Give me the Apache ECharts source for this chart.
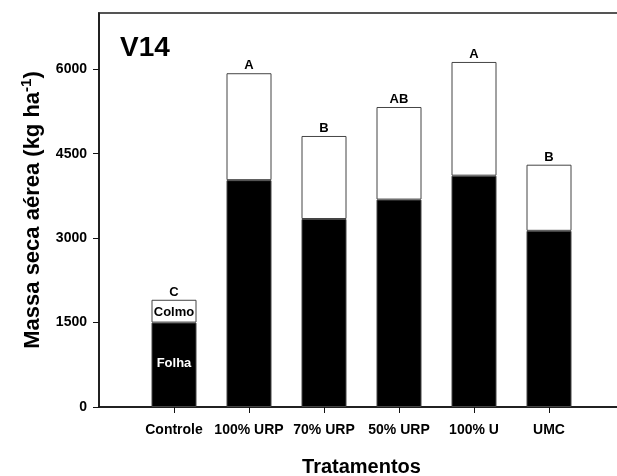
<!DOCTYPE html>
<html>
<head>
<meta charset="utf-8">
<script src="https://cdn.jsdelivr.net/npm/echarts@6/dist/echarts.min.js"></script>
<style>
html, body { margin: 0; padding: 0; background: #fff; }
#main { width: 617px; height: 476px; }
</style>
</head>
<body>
<div id="main"></div>
<script>
// massa seca aérea (kg/ha) em V14
var tratamentos = ['Controle', '100% URP', '70% URP', '50% URP', '100% U', 'UMC'];
var folha = [1500, 4030, 3340, 3685, 4110, 3130];
var colmo = [405, 1900, 1475, 1645, 2020, 1175];
var letras = ['C', 'A', 'B', 'AB', 'A', 'B'];
var yTicks = [0, 1500, 3000, 4500, 6000];

var fonte = '"Liberation Sans", Arial, sans-serif';

// uma posição vazia em cada ponta do eixo, como no original
function pad(arr, vazio) {
	return [vazio].concat(arr, [vazio]);
}

var cats = pad(tratamentos, '');

var folhaData = pad(folha.map(function (v, i) {
	if (i === 0)
		return { value: v, label: { show: true, position: 'inside', formatter: 'Folha', offset: [0, -1],
			color: '#fff', fontSize: 13, fontWeight: 'bold', fontFamily: fonte } };
	return v;
}), '-');

var colmoData = pad(colmo.map(function (v, i) {
	if (i === 0)
		return { value: v, label: { show: true, position: 'inside', formatter: 'Colmo', offset: [0, 1],
			color: '#000', fontSize: 13, fontWeight: 'bold', fontFamily: fonte } };
	return v;
}), '-');

// total de cada barra, só para pôr as letras em cima
var totalData = pad(folha.map(function (v, i) {
	return v + colmo[i];
}), '-');
var letrasPad = pad(letras, '');

var chart = echarts.init(document.getElementById('main'));
chart.setOption({
	animation: false,
	backgroundColor: '#fff',
	textStyle: { fontFamily: fonte },
	title: {
		text: 'V14', left: 120, top: 34, padding: 0,
		textStyle: { fontSize: 28, fontWeight: 'bold', color: '#000', fontFamily: fonte }
	},
	grid: {
		left: 99, top: 13, width: 525, height: 394,
		outerBoundsMode: 'none', containLabel: false,
		show: true, borderColor: '#555', borderWidth: 2, backgroundColor: 'transparent'
	},
	xAxis: {
		type: 'category',
		data: cats,
		boundaryGap: false,
		name: 'Tratamentos',
		nameLocation: 'middle',
		nameGap: 50,
		nameTextStyle: { fontSize: 20, fontWeight: 'bold', color: '#000', fontFamily: fonte },
		axisLine: { lineStyle: { color: '#111', width: 1.5 } },
		axisTick: {
			length: 6,
			lineStyle: { color: '#111' },
			interval: function (i) { return i > 0 && i < cats.length - 1; }
		},
		axisLabel: { interval: 0, margin: 16, fontSize: 14, fontWeight: 'bold', color: '#000', fontFamily: fonte },
		splitLine: { show: false }
	},
	yAxis: {
		type: 'value',
		min: 0,
		max: 7000,
		name: 'Massa seca aérea (kg ha{sup|-1})',
		nameLocation: 'middle',
		nameGap: 53,
		nameTextStyle: {
			fontSize: 22, fontWeight: 'bold', color: '#000', fontFamily: fonte,
			rich: { sup: { fontSize: 15, fontWeight: 'bold', color: '#000', fontFamily: fonte, verticalAlign: 'top', padding: [0, 0, 12, 0] } }
		},
		axisLine: { show: true, lineStyle: { color: '#111', width: 1.5 } },
		axisTick: { show: true, length: 6, customValues: yTicks, lineStyle: { color: '#111' } },
		axisLabel: {
			customValues: yTicks, margin: 12, fontSize: 14, fontWeight: 'bold', color: '#000', fontFamily: fonte,
			formatter: function (v) { return String(v); }
		},
		splitLine: { show: false }
	},
	series: [ {
		name: 'Folha',
		type: 'bar',
		stack: 'massa',
		barWidth: 45,
		barGap: '-100%',
		data: folhaData,
		itemStyle: { color: '#000', borderColor: '#444', borderWidth: 1 }
	}, {
		name: 'Colmo',
		type: 'bar',
		stack: 'massa',
		barWidth: 45,
		barGap: '-100%',
		data: colmoData,
		itemStyle: { color: '#fff', borderColor: '#444', borderWidth: 1 }
	}, {
		name: 'Letras',
		type: 'bar',
		barWidth: 45,
		barGap: '-100%',
		silent: true,
		z: 1,
		data: totalData,
		itemStyle: { color: 'rgba(0,0,0,0)', borderWidth: 0 },
		label: {
			show: true, position: 'top', distance: 1,
			fontSize: 13, fontWeight: 'bold', color: '#000', fontFamily: fonte,
			formatter: function (p) { return letrasPad[p.dataIndex]; }
		}
	} ]
});
</script>
</body>
</html>
